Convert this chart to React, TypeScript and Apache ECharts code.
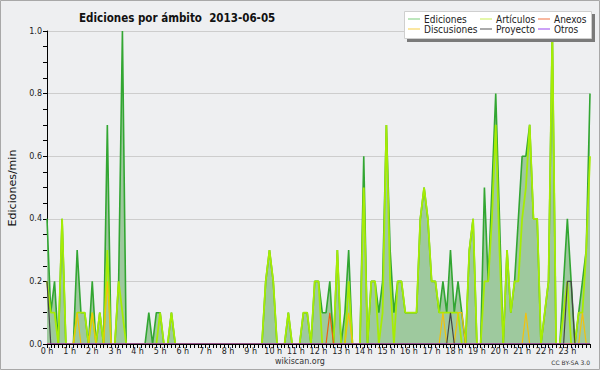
import React, { useEffect, useRef } from "react";
import * as echarts from "echarts";

// One value every 10 minutes, from 00:00 to 24:00 (145 points), edits per minute.
// Each row = one hour (6 slots).
const EDICIONES = [
  0.4, 0.1, 0.2, 0, 0.4, 0,
  0, 0, 0.3, 0.1, 0.1, 0,
  0.2, 0, 0.1, 0, 0.7, 0,
  0, 0.2, 1.0, 0, 0, 0,
  0, 0, 0, 0.1, 0, 0.1,
  0.1, 0, 0, 0.1, 0, 0,
  0, 0, 0, 0, 0, 0,
  0, 0, 0, 0, 0, 0,
  0, 0, 0, 0, 0, 0,
  0, 0, 0, 0, 0.2, 0.3,
  0.2, 0, 0, 0, 0.1, 0,
  0, 0, 0.1, 0.1, 0, 0.2,
  0.2, 0.1, 0.1, 0.2, 0, 0.3,
  0, 0.1, 0.3, 0, 0, 0,
  0.6, 0, 0.2, 0.2, 0.1, 0.2,
  0.7, 0.3, 0.1, 0.2, 0.2, 0.1,
  0.1, 0.1, 0.1, 0.4, 0.5, 0.4,
  0.2, 0.2, 0.1, 0.2, 0.1, 0.3,
  0.1, 0.2, 0.1, 0, 0.3, 0.4,
  0, 0, 0.5, 0.2, 0.5, 0.8,
  0.4, 0, 0.3, 0.1, 0.2, 0.4,
  0.6, 0.6, 0.7, 0.4, 0.4, 0,
  0.1, 0.2, 1.0, 0, 0, 0.2,
  0.4, 0.2, 0, 0.1, 0.2, 0.3,
  0.8,
];

const ARTICULOS = [
  0.2, 0.1, 0.1, 0, 0.4, 0,
  0, 0, 0.1, 0.1, 0.1, 0,
  0.1, 0, 0.1, 0, 0.3, 0,
  0, 0.2, 0.1, 0, 0, 0,
  0, 0, 0, 0, 0, 0,
  0.1, 0, 0, 0.1, 0, 0,
  0, 0, 0, 0, 0, 0,
  0, 0, 0, 0, 0, 0,
  0, 0, 0, 0, 0, 0,
  0, 0, 0, 0, 0.2, 0.3,
  0.2, 0, 0, 0, 0.1, 0,
  0, 0, 0.1, 0.1, 0, 0.2,
  0.2, 0, 0, 0, 0, 0.3,
  0, 0, 0.2, 0, 0, 0,
  0.5, 0, 0.2, 0.2, 0, 0.1,
  0.7, 0.2, 0, 0.2, 0.2, 0.1,
  0.1, 0.1, 0.1, 0.4, 0.5, 0.4,
  0.2, 0.2, 0.1, 0.1, 0.1, 0.1,
  0.1, 0.1, 0, 0, 0.3, 0.4,
  0, 0, 0.2, 0.2, 0.4, 0.7,
  0.3, 0, 0.3, 0.1, 0.2, 0.2,
  0.4, 0.5, 0.7, 0.4, 0.4, 0,
  0.1, 0.2, 1.0, 0, 0, 0.1,
  0.2, 0, 0, 0.1, 0.1, 0.3,
  0.6,
];

const ANEXOS = [
  0, 0, 0, 0, 0, 0,
  0, 0, 0, 0, 0, 0,
  0, 0, 0, 0, 0, 0,
  0, 0, 0, 0, 0, 0,
  0, 0, 0, 0, 0, 0,
  0, 0, 0, 0, 0, 0,
  0, 0, 0, 0, 0, 0,
  0, 0, 0, 0, 0, 0,
  0, 0, 0, 0, 0, 0,
  0, 0, 0, 0, 0, 0,
  0, 0, 0, 0, 0, 0,
  0, 0, 0, 0, 0, 0,
  0, 0, 0, 0.1, 0, 0,
  0, 0, 0, 0, 0, 0,
  0, 0, 0, 0, 0, 0,
  0, 0, 0, 0, 0, 0,
  0, 0, 0, 0, 0, 0,
  0, 0, 0, 0, 0, 0,
  0, 0, 0, 0, 0, 0,
  0, 0, 0, 0, 0, 0,
  0, 0, 0, 0, 0, 0,
  0, 0, 0, 0, 0, 0,
  0, 0, 0, 0, 0, 0,
  0, 0, 0, 0, 0, 0,
  0,
];

const DISCUSIONES = [
  0, 0, 0, 0, 0, 0,
  0, 0, 0.1, 0, 0, 0,
  0.1, 0, 0, 0, 0.2, 0,
  0, 0, 0, 0, 0, 0,
  0, 0, 0, 0, 0, 0,
  0, 0, 0, 0, 0, 0,
  0, 0, 0, 0, 0, 0,
  0, 0, 0, 0, 0, 0,
  0, 0, 0, 0, 0, 0,
  0, 0, 0, 0, 0, 0,
  0, 0, 0, 0, 0, 0,
  0, 0, 0, 0, 0, 0,
  0, 0, 0, 0, 0, 0,
  0, 0, 0.1, 0, 0, 0,
  0, 0, 0, 0, 0, 0,
  0, 0, 0, 0, 0, 0,
  0, 0, 0, 0, 0, 0,
  0, 0, 0, 0.1, 0, 0,
  0, 0.1, 0.1, 0, 0, 0,
  0, 0, 0, 0, 0, 0,
  0, 0, 0, 0, 0, 0,
  0, 0.1, 0, 0, 0, 0,
  0, 0, 0, 0, 0, 0,
  0, 0, 0, 0, 0.1, 0,
  0,
];

const PROYECTO = [
  0.2, 0, 0, 0, 0, 0,
  0, 0, 0, 0, 0, 0,
  0, 0, 0, 0, 0, 0,
  0, 0, 0, 0, 0, 0,
  0, 0, 0, 0, 0, 0,
  0, 0, 0, 0, 0, 0,
  0, 0, 0, 0, 0, 0,
  0, 0, 0, 0, 0, 0,
  0, 0, 0, 0, 0, 0,
  0, 0, 0, 0, 0, 0,
  0, 0, 0, 0, 0, 0,
  0, 0, 0, 0, 0, 0,
  0, 0, 0, 0, 0, 0,
  0, 0, 0, 0, 0, 0,
  0, 0, 0, 0, 0, 0,
  0, 0, 0, 0, 0, 0,
  0, 0, 0, 0, 0, 0,
  0, 0, 0, 0, 0, 0.1,
  0, 0, 0, 0, 0, 0,
  0, 0, 0, 0, 0, 0,
  0, 0, 0, 0, 0, 0,
  0, 0, 0, 0, 0, 0,
  0, 0, 0, 0, 0, 0,
  0.2, 0.2, 0, 0, 0, 0,
  0,
];

const OTROS = [
  0, 0, 0, 0, 0, 0,
  0, 0, 0, 0, 0, 0,
  0, 0, 0, 0, 0, 0,
  0, 0, 0, 0, 0, 0,
  0, 0, 0, 0, 0, 0,
  0, 0, 0, 0, 0, 0,
  0, 0, 0, 0, 0, 0,
  0, 0, 0, 0, 0, 0,
  0, 0, 0, 0, 0, 0,
  0, 0, 0, 0, 0, 0,
  0, 0, 0, 0, 0, 0,
  0, 0, 0, 0, 0, 0,
  0, 0, 0, 0, 0, 0,
  0, 0, 0, 0, 0, 0,
  0, 0, 0, 0, 0, 0,
  0, 0, 0, 0, 0, 0,
  0, 0, 0, 0, 0, 0,
  0, 0, 0, 0, 0, 0,
  0, 0, 0, 0, 0, 0,
  0, 0, 0, 0, 0, 0,
  0, 0, 0, 0, 0, 0,
  0, 0, 0, 0, 0, 0,
  0, 0, 0, 0, 0, 0,
  0, 0, 0, 0, 0, 0,
  0,
];

const SLOTS_PER_HOUR = 6;
const MINUTES = ["00", "10", "20", "30", "40", "50"];
const HOURS = [
  "0", "1", "2", "3", "4", "5", "6", "7", "8", "9", "10", "11",
  "12", "13", "14", "15", "16", "17", "18", "19", "20", "21", "22", "23",
];
const CATEGORIES: string[] = [];
HOURS.forEach((h) => MINUTES.forEach((m) => CATEGORIES.push(`${h}:${m}`)));
CATEGORIES.push("24:00");

const Y_TICKS = [0, 0.2, 0.4, 0.6, 0.8, 1.0];

const TITLE = "Ediciones por ámbito  2013-06-05";
const Y_NAME = "Ediciones/min";

const FONT = "DejaVu Sans, Liberation Sans, sans-serif";
const FONT_C = "DejaVu Sans Condensed, DejaVu Sans, sans-serif";

const COLORS = {
  ediciones: "#32a632",
  edicionesFill: "#9ec99e",
  articulos: "#a6ec04",
  anexos: "#f0600a",
  discusiones: "#f2c20c",
  proyecto: "#444444",
  otros: "#9933ee",
};

export default function App() {
  const ref = useRef<HTMLDivElement>(null);

  useEffect(() => {
    if (!ref.current) return;
    const chart = echarts.init(ref.current, undefined, { renderer: "svg" });

    const legendBase = {
      orient: "vertical",
      top: 14,
      itemGap: 0,
      itemWidth: 12,
      itemHeight: 1,
      icon: "rect",
      padding: 0,
      selectedMode: false,
      z: 8,
      textStyle: {
        fontSize: 10,
        lineHeight: 10,
        fontFamily: FONT_C,
        color: "#222",
        padding: [0, 0, 0, -1],
      },
    };

    const lineSeries = (name: string, data: number[], color: string, width: number) => ({
      name,
      type: "line",
      data,
      symbol: "none",
      silent: true,
      lineStyle: { color, width },
      itemStyle: { color },
    });

    chart.setOption({
      animation: false,
      backgroundColor: "#eeeff1",
      textStyle: { fontFamily: FONT },
      title: {
        text: TITLE,
        left: 74,
        top: 7,
        textStyle: { fontFamily: FONT_C, fontSize: 11.5, fontWeight: "bold", color: "#111" },
      },
      grid: { left: 47, top: 31, right: 10, bottom: 26, containLabel: false },
      xAxis: {
        type: "category",
        data: CATEGORIES,
        boundaryGap: false,
        z: 4,
        axisLine: { lineStyle: { color: "#000", width: 1 } },
        axisTick: { interval: 0, length: 4, lineStyle: { color: "#000" } },
        axisLabel: {
          interval: SLOTS_PER_HOUR - 1,
          margin: 3,
          fontSize: 8,
          color: "#222",
          fontFamily: FONT,
          formatter: (v: string, i: number) =>
            i % SLOTS_PER_HOUR === 0 && i < CATEGORIES.length - 1 ? `${HOURS[i / SLOTS_PER_HOUR]} h` : "",
        },
        splitLine: { show: false },
      },
      yAxis: {
        type: "value",
        min: Y_TICKS[0],
        max: Y_TICKS[Y_TICKS.length - 1],
        interval: 0.2,
        axisLine: { show: true, lineStyle: { color: "#000", width: 1 } },
        axisTick: { show: true, length: 4, lineStyle: { color: "#000" } },
        minorTick: { show: true, splitNumber: 4, length: 4, lineStyle: { color: "#000" } },
        axisLabel: {
          margin: 5,
          fontSize: 8,
          color: "#222",
          fontFamily: FONT,
          formatter: (v: number) => v.toFixed(1),
        },
        splitLine: { show: true, lineStyle: { color: "#cdcdcd", width: 1 } },
      },
      legend: [
        {
          ...legendBase,
          left: 408,
          data: [
            { name: "Ediciones", itemStyle: { color: "#7acc7a" } },
            { name: "Discusiones", itemStyle: { color: "#f7cf45" } },
          ],
        },
        {
          ...legendBase,
          left: 480,
          data: [
            { name: "Artículos", itemStyle: { color: "#c8ee55" } },
            { name: "Proyecto", itemStyle: { color: "#555555" } },
          ],
        },
        {
          ...legendBase,
          left: 538,
          data: [
            { name: "Anexos", itemStyle: { color: "#f07040" } },
            { name: "Otros", itemStyle: { color: "#9944ee" } },
          ],
        },
      ],
      graphic: [
        {
          type: "rect",
          z: 100,
          silent: true,
          shape: { x: 0.5, y: 0.5, width: 599, height: 369 },
          style: { fill: "none", stroke: "#a8a8a8", lineWidth: 1 },
        },
        {
          type: "rect",
          z: 6,
          silent: true,
          shape: { x: 407, y: 14, width: 188, height: 28 },
          style: { fill: "#7a7a7a" },
        },
        {
          type: "rect",
          z: 7,
          silent: true,
          shape: { x: 404.5, y: 11.5, width: 187, height: 27 },
          style: { fill: "#ffffff", stroke: "#cfcfcf", lineWidth: 1 },
        },
        {
          type: "text",
          silent: true,
          x: 12,
          y: 188,
          rotation: Math.PI / 2,
          style: {
            text: Y_NAME,
            x: 0,
            y: 0,
            fontSize: 11,
            fontFamily: FONT,
            fill: "#111",
            align: "center",
            verticalAlign: "middle",
          },
        },
        {
          type: "text",
          silent: true,
          style: {
            text: "wikiscan.org",
            x: 300,
            y: 361,
            fontSize: 8,
            fontFamily: FONT,
            fill: "#333",
            align: "center",
            verticalAlign: "middle",
          },
        },
        {
          type: "text",
          silent: true,
          style: {
            text: "CC BY-SA 3.0",
            x: 590,
            y: 362,
            fontSize: 6,
            fontFamily: FONT,
            fill: "#333",
            align: "right",
            verticalAlign: "middle",
          },
        },
      ],
      series: [
        {
          ...lineSeries("Ediciones", EDICIONES, COLORS.ediciones, 1.6),
          areaStyle: { color: COLORS.edicionesFill, opacity: 1 },
        },
        lineSeries("Artículos", ARTICULOS, COLORS.articulos, 1.8),
        lineSeries("Discusiones", DISCUSIONES, COLORS.discusiones, 1.2),
        lineSeries("Anexos", ANEXOS, COLORS.anexos, 1.2),
        lineSeries("Proyecto", PROYECTO, COLORS.proyecto, 1.2),
        lineSeries("Otros", OTROS, COLORS.otros, 1),
      ],
    });

    return () => chart.dispose();
  }, []);

  return (
    <div
      ref={ref}
      style={{ position: "fixed", left: 0, top: 0, width: 600, height: 370 }}
    />
  );
}
